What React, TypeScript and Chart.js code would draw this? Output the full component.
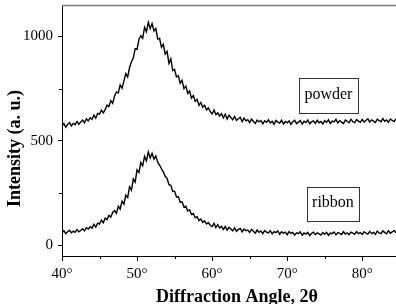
import React, { useEffect, useRef } from 'react';
import { Chart, registerables } from 'chart.js';

Chart.register(...registerables);

// Scan grid: 2θ from 40° in 0.25° steps
const ANGLE_START = 40;
const ANGLE_STEP = 0.25;

// Measured intensities (a. u.), one value per scan step
const POWDER = [
  571, 583, 566, 579, 588, 572, 584, 578, 593, 580, 591, 600, 587, 606, 596, 611, 603, 624, 609, 632,
  628, 647, 634, 650, 671, 664, 693, 680, 715, 734, 729, 768, 752, 787, 822, 806, 851, 878, 896, 941,
  938, 985, 1003, 991, 1044, 1022, 1068, 1037, 1061, 1026, 1038, 987, 991, 948, 962, 915, 928, 871, 893, 836,
  842, 806, 811, 776, 790, 750, 762, 727, 739, 705, 717, 689, 699, 670, 684, 661, 671, 648, 659, 640,
  629, 648, 626, 634, 619, 631, 610, 628, 605, 623, 612, 601, 617, 598, 606, 613, 592, 609, 596, 602,
  588, 605, 593, 584, 600, 591, 598, 582, 596, 589, 601, 586, 594, 580, 598, 590, 585, 599, 581, 593,
  587, 596, 579, 592, 599, 583, 590, 597, 580, 594, 588, 600, 582, 591, 596, 584, 599, 587, 593, 581,
  597, 589, 601, 584, 595, 591, 603, 586, 597, 590, 583, 600, 594, 587, 604, 592, 588, 602, 595, 589,
  603, 591, 598, 606, 590, 601, 595, 588, 604, 597, 592, 607, 594, 600, 589, 605, 598, 593, 606,
];

const RIBBON = [
  60, 71, 57, 66, 73, 61, 69, 63, 76, 66, 72, 80, 70, 85, 79, 90, 83, 101, 88, 107,
  103, 122, 109, 131, 124, 144, 136, 158, 167, 154, 188, 174, 212, 198, 241, 229, 281, 265, 318, 304,
  362, 349, 397, 381, 426, 405, 447, 419, 441, 413, 428, 399, 385, 367, 352, 331, 321, 291, 288, 259,
  260, 232, 233, 206, 209, 184, 188, 165, 171, 148, 153, 133, 138, 119, 127, 111, 118, 103, 110, 97,
  91, 106, 86, 100, 84, 92, 77, 91, 74, 87, 79, 70, 84, 68, 77, 82, 65, 79, 71, 74,
  62, 77, 68, 59, 74, 63, 70, 57, 72, 64, 60, 71, 56, 67, 62, 70, 54, 66, 59, 64,
  52, 67, 58, 63, 50, 61, 57, 65, 49, 60, 55, 63, 48, 59, 64, 52, 61, 56, 50, 62,
  54, 63, 49, 60, 57, 65, 51, 62, 58, 53, 66, 55, 61, 52, 64, 59, 54, 67, 57, 62,
  53, 66, 59, 55, 68, 57, 63, 54, 69, 60, 57, 70, 62, 56, 71, 59, 65, 72, 61,
];

const SERIES_NAMES = ['powder', 'ribbon'];
const X_TICKS = [40, 50, 60, 70, 80];
const X_MINOR = [45, 55, 65, 75];
const Y_TICKS = [0, 500, 1000];
const Y_MINOR = [250, 750];
const X_TITLE = 'Diffraction Angle, 2θ';
const Y_TITLE = 'Intensity (a. u.)';

const SERIF = '"Liberation Serif", "Times New Roman", serif';

const toPoints = (vals: number[]) =>
  vals.map((v, i) => ({ x: ANGLE_START + i * ANGLE_STEP, y: v }));

// Name boxes, placed in data coordinates next to each curve
const NAME_BOXES = [
  { text: SERIES_NAMES[0], x: 75.5, y: 717, w: 59, h: 35 },
  { text: SERIES_NAMES[1], x: 76.1, y: 198, w: 52, h: 34 },
];

const decorations = {
  id: 'decorations',
  afterDraw(chart: any) {
    const { ctx, chartArea: a, scales } = chart;
    const xs = scales.x;
    const ys = scales.y;
    ctx.save();

    // top frame line
    ctx.strokeStyle = '#7a7a7a';
    ctx.lineWidth = 1.5;
    ctx.beginPath();
    ctx.moveTo(a.left, a.top + 0.5);
    ctx.lineTo(a.right, a.top + 0.5);
    ctx.stroke();

    // minor ticks
    ctx.strokeStyle = '#000';
    ctx.lineWidth = 1;
    ctx.beginPath();
    X_MINOR.forEach((v) => {
      const px = Math.round(xs.getPixelForValue(v)) + 0.5;
      ctx.moveTo(px, a.bottom);
      ctx.lineTo(px, a.bottom + 3);
    });
    Y_MINOR.forEach((v) => {
      const py = Math.round(ys.getPixelForValue(v)) + 0.5;
      ctx.moveTo(a.left, py);
      ctx.lineTo(a.left - 3, py);
    });
    ctx.stroke();

    // boxed series names
    ctx.font = `16px ${SERIF}`;
    ctx.textAlign = 'center';
    ctx.textBaseline = 'middle';
    NAME_BOXES.forEach((b) => {
      const cx = xs.getPixelForValue(b.x);
      const cy = ys.getPixelForValue(b.y);
      ctx.fillStyle = '#fff';
      ctx.fillRect(cx - b.w / 2, cy - b.h / 2, b.w, b.h);
      ctx.strokeStyle = '#333';
      ctx.lineWidth = 1;
      ctx.strokeRect(Math.round(cx - b.w / 2) + 0.5, Math.round(cy - b.h / 2) + 0.5, b.w, b.h);
      ctx.fillStyle = '#000';
      ctx.fillText(b.text, cx, cy - 1);
    });

    // axis titles
    ctx.fillStyle = '#000';
    ctx.font = `bold 18px ${SERIF}`;
    ctx.textAlign = 'center';
    ctx.textBaseline = 'alphabetic';
    ctx.fillText(X_TITLE, (a.left + a.right) / 2 + 8, 302);

    ctx.translate(20, (a.top + a.bottom) / 2 + 18);
    ctx.rotate(-Math.PI / 2);
    ctx.fillText(Y_TITLE, 0, 0);
    ctx.restore();
  },
};

export default function App() {
  const canvasRef = useRef<HTMLCanvasElement | null>(null);

  useEffect(() => {
    if (!canvasRef.current) return;
    const lineStyle = {
      borderColor: '#000',
      borderWidth: 1.4,
      pointRadius: 0,
      tension: 0,
      fill: false,
    };
    const chart = new Chart(canvasRef.current, {
      type: 'line',
      data: {
        datasets: [
          { label: SERIES_NAMES[0], data: toPoints(POWDER), ...lineStyle },
          { label: SERIES_NAMES[1], data: toPoints(RIBBON), ...lineStyle },
        ],
      },
      options: {
        responsive: false,
        animation: false,
        events: [],
        layout: { padding: { top: 5, right: 0, left: 0, bottom: 0 } },
        plugins: {
          legend: { display: false },
          tooltip: { enabled: false },
        },
        scales: {
          x: {
            type: 'linear',
            min: 40,
            max: 84.5,
            afterBuildTicks: (s: any) => {
              s.ticks = X_TICKS.map((v) => ({ value: v }));
            },
            afterFit: (s: any) => {
              s.height = 48;
              s.paddingLeft = 0;
              s.paddingRight = 0;
            },
            ticks: {
              color: '#000',
              font: { family: SERIF, size: 15 },
              padding: 4,
              maxRotation: 0,
              autoSkip: false,
              callback: (v: any) => `${v}°`,
            },
            grid: { drawOnChartArea: false, tickLength: 5, tickColor: '#000' },
            border: { color: '#000', width: 1 },
          },
          y: {
            type: 'linear',
            min: -50,
            max: 1150,
            afterBuildTicks: (s: any) => {
              s.ticks = Y_TICKS.map((v) => ({ value: v }));
            },
            afterFit: (s: any) => {
              s.width = 62;
              s.paddingTop = 0;
              s.paddingBottom = 0;
            },
            ticks: {
              color: '#000',
              font: { family: SERIF, size: 15 },
              padding: 5,
              autoSkip: false,
              callback: (v: any) => String(v),
            },
            grid: { drawOnChartArea: false, tickLength: 4, tickColor: '#000' },
            border: { color: '#000', width: 1 },
          },
        },
      },
      plugins: [decorations],
    });
    return () => chart.destroy();
  }, []);

  return (
    <div style={{ position: 'fixed', left: 0, top: 0, width: 396, height: 304, background: '#fff' }}>
      <canvas ref={canvasRef} width={396} height={304} style={{ display: 'block' }} />
    </div>
  );
}
